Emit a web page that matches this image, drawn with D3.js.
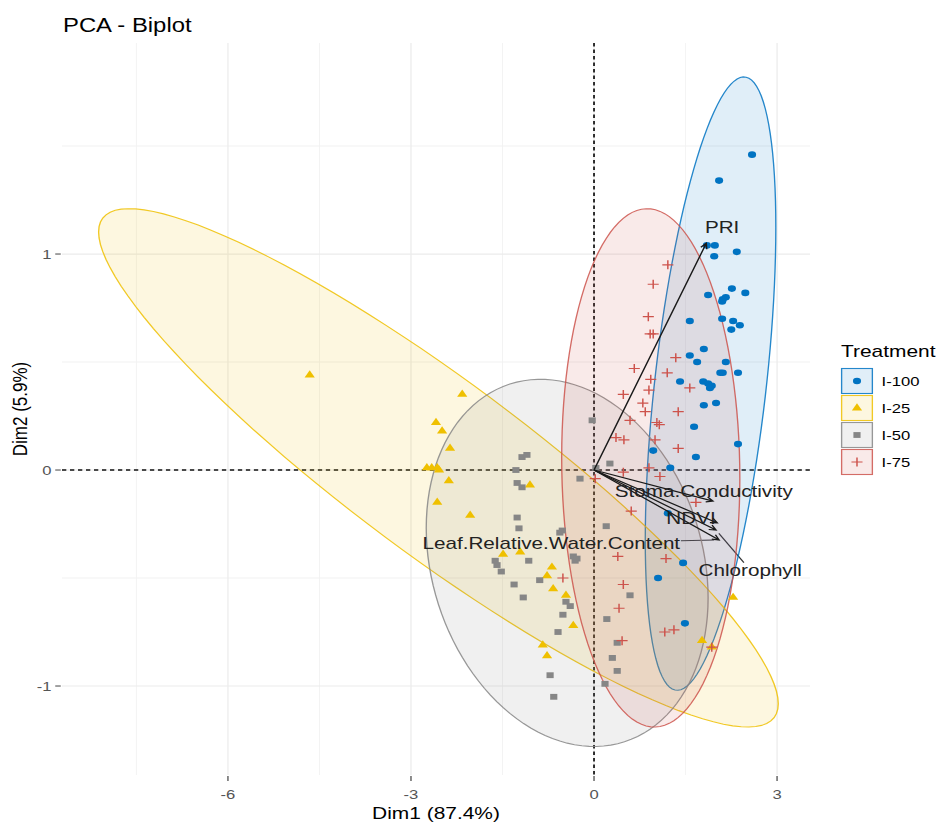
<!DOCTYPE html>
<html>
<head>
<meta charset="utf-8">
<script src="https://cdn.jsdelivr.net/npm/d3@7"></script>
<style>
  body { margin: 0; background: #fff; }
  text { font-family: "Liberation Sans", Arial, Helvetica, sans-serif; }
</style>
</head>
<body>
<div id="chart"></div>
<script>
// treatments
const groups = ["I-100", "I-25", "I-50", "I-75"];
const groupColors = ["#0073C2", "#EFC000", "#868686", "#CD534C"];
const groupShapes = ["circle", "triangle", "square", "plus"];

// individual scores (Dim1, Dim2) per treatment
const i100X = [2.59, 2.05, 1.85, 1.98, 1.97, 2.34, 2.26, 2.48, 1.87, 2.11, 2.16, 2.10, 1.57, 2.10, 2.28, 2.39, 2.25, 1.80, 1.57, 1.69,
  2.16, 2.07, 2.11, 2.36, 1.41, 1.79, 1.87, 1.93, 1.90, 1.80, 2.00, 1.64, 2.36, 0.97, 1.67, 1.25, 1.21, 1.46, 1.05, 1.49];
const i100Y = [1.46, 1.34, 1.04, 1.04, 0.99, 1.01, 0.84, 0.82, 0.81, 0.79, 0.80, 0.78, 0.69, 0.70, 0.69, 0.67, 0.65, 0.56, 0.53, 0.50,
  0.50, 0.45, 0.45, 0.45, 0.41, 0.41, 0.40, 0.39, 0.38, 0.30, 0.31, 0.20, 0.12, 0.09, 0.06, 0.01, -0.20, -0.43, -0.50, -0.71];

const i25X = [-4.66, -2.16, -2.59, -2.49, -2.36, -2.74, -2.66, -2.57, -2.54, -2.38, -1.05, -2.57, -2.03, -1.49, -1.21, -0.69, -0.77,
  -0.67, -0.46, -0.34, -0.84, -0.77, 2.28, 1.77, 1.93];
const i25Y = [0.44, 0.35, 0.22, 0.18, 0.10, 0.01, 0.01, 0.01, 0.00, -0.05, -0.07, -0.15, -0.21, -0.39, -0.38, -0.45, -0.49,
  -0.55, -0.58, -0.72, -0.81, -0.86, -0.59, -0.79, -0.82];

const i50X = [-1.18, -1.10, -1.28, -1.26, -1.18, -1.26, -1.23, -0.52, -0.03, -0.23, 0.26, -1.62, -1.59, -1.52, -1.07, -0.34, -0.28, -0.31,
  -1.31, -0.89, -1.16, -0.46, -0.39, -0.51, -0.59, 0.21, 0.20, -0.56, 0.59, 0.30, 0.38, 0.18, -0.72, -0.66, 0.38, 0.03];
const i50Y = [0.06, 0.07, 0.00, -0.06, -0.08, -0.22, -0.27, -0.28, 0.23, -0.04, 0.03, -0.42, -0.44, -0.47, -0.42, -0.40, -0.41, -0.42,
  -0.53, -0.51, -0.59, -0.61, -0.63, -0.67, -0.75, -0.69, -0.26, -0.29, -0.58, -0.87, -0.93, -0.99, -0.95, -1.05, -0.80, 0.01];

const i75X = [1.21, 0.97, 0.89, 0.92, 0.97, 1.34, 0.66, 1.20, 0.93, 1.57, 0.48, 0.90, 0.80, 0.84, 1.38, 0.59, 1.03, 1.07, 0.36, 0.49,
  1.00, 1.38, 0.90, 0.48, 1.08, 0.02, 0.61, 1.67, 0.39, 1.18, -0.51, 0.48, 0.41, 1.16, 1.31, 0.46, 1.93];
const i75Y = [0.95, 0.86, 0.71, 0.63, 0.63, 0.52, 0.47, 0.45, 0.42, 0.38, 0.35, 0.37, 0.31, 0.27, 0.27, 0.23, 0.22, 0.21, 0.15, 0.14,
  0.14, 0.10, 0.01, -0.01, -0.03, -0.04, -0.19, -0.15, -0.40, -0.41, -0.50, -0.53, -0.64, -0.75, -0.74, -0.79, -0.82];

// concentration ellipses per treatment: centre, spread on each axis, correlation
const ellipseCx = [1.91, -2.55, -0.44, 0.93];
const ellipseCy = [0.40, 0.01, -0.43, 0.01];
const ellipseSdx = [1.07, 5.57, 2.31, 1.46];
const ellipseSdy = [1.42, 1.20, 0.85, 1.20];
const ellipseR = [0.51, -0.91, -0.19, -0.04];

// variables (arrows)
const varNames = ["PRI", "Stoma.Conductivity", "NDVI", "Chlorophyll", "Leaf.Relative.Water.Content"];
const varX = [1.84, 1.95, 2.02, 2.00, 2.05];
const varY = [1.05, -0.144, -0.245, -0.278, -0.324];
const labelX = [2.10, 1.80, 1.59, 2.56, -0.70];
const labelY = [1.125, -0.097, -0.222, -0.463, -0.338];

const xTicks = [-6, -3, 0, 3];
const yTicks = [-1, 0, 1];
const xMinor = [-7.5, -4.5, -1.5, 1.5];
const yMinor = [-0.5, 0.5, 1.5];

const width = 938,
  height = 823,
  SX = 1.23; // picture is stretched horizontally

const svg = d3
  .select("#chart")
  .append("svg")
  .attr("width", width)
  .attr("height", height);

const root = svg.append("g").attr("transform", `scale(${SX},1)`);

const panel = { left: 62 / SX, right: 810 / SX, top: 43, bottom: 775 };

const x = d3.scaleLinear().domain([-8.72, 3.54]).range([panel.left, panel.right]);
const y = d3.scaleLinear().domain([-1.412, 1.977]).range([panel.bottom, panel.top]);

// grid
const grid = root.append("g");
grid.selectAll(".gx-minor").data(xMinor).enter().append("line")
  .attr("x1", d => x(d)).attr("x2", d => x(d))
  .attr("y1", panel.top).attr("y2", panel.bottom)
  .attr("stroke", "#f1f1f1").attr("stroke-width", 0.8);
grid.selectAll(".gy-minor").data(yMinor).enter().append("line")
  .attr("x1", panel.left).attr("x2", panel.right)
  .attr("y1", d => y(d)).attr("y2", d => y(d))
  .attr("stroke", "#f1f1f1").attr("stroke-width", 1);
grid.selectAll(".gx").data(xTicks).enter().append("line")
  .attr("x1", d => x(d)).attr("x2", d => x(d))
  .attr("y1", panel.top).attr("y2", panel.bottom)
  .attr("stroke", "#ebebeb").attr("stroke-width", 1);
grid.selectAll(".gy").data(yTicks).enter().append("line")
  .attr("x1", panel.left).attr("x2", panel.right)
  .attr("y1", d => y(d)).attr("y2", d => y(d))
  .attr("stroke", "#ebebeb").attr("stroke-width", 1.2);

// axes ticks + labels
const axisCol = "#555";
root.selectAll(".xt").data(xTicks).enter().append("line")
  .attr("x1", d => x(d)).attr("x2", d => x(d))
  .attr("y1", panel.bottom + 1).attr("y2", panel.bottom + 6)
  .attr("stroke", "#444").attr("stroke-width", 1);
root.selectAll(".xl").data(xTicks).enter().append("text")
  .attr("x", d => x(d)).attr("y", 799)
  .attr("text-anchor", "middle").attr("fill", axisCol)
  .style("font-size", "13.5px")
  .text(d => d);
root.selectAll(".yt").data(yTicks).enter().append("line")
  .attr("x1", panel.left - 5.5).attr("x2", panel.left - 1)
  .attr("y1", d => y(d)).attr("y2", d => y(d))
  .attr("stroke", "#444").attr("stroke-width", 1);
root.selectAll(".yl").data(yTicks).enter().append("text")
  .attr("x", panel.left - 8.5).attr("y", d => y(d) + 5)
  .attr("text-anchor", "end").attr("fill", axisCol)
  .style("font-size", "13.5px")
  .text(d => d);

root.append("text")
  .attr("x", (panel.left + panel.right) / 2).attr("y", 819)
  .attr("text-anchor", "middle")
  .style("font-size", "17px")
  .text("Dim1 (87.4%)");
root.append("text")
  .attr("transform", `translate(22, ${(panel.top + panel.bottom) / 2}) rotate(-90)`)
  .attr("text-anchor", "middle")
  .style("font-size", "17px")
  .text("Dim2 (5.9%)");

root.append("text")
  .attr("x", 63 / SX).attr("y", 32)
  .style("font-size", "19.4px")
  .text("PCA - Biplot");

// reference lines
root.append("line")
  .attr("x1", x(0)).attr("x2", x(0)).attr("y1", panel.top).attr("y2", panel.bottom)
  .attr("stroke", "#111").attr("stroke-width", 1.4).attr("stroke-dasharray", "3.5,3");
root.append("line")
  .attr("x1", panel.left).attr("x2", panel.right).attr("y1", y(0)).attr("y2", y(0))
  .attr("stroke", "#111").attr("stroke-width", 1.4).attr("stroke-dasharray", "3.5,3");

// ellipses
const ellipseLine = d3.line().x(d => x(d[0])).y(d => y(d[1])).curve(d3.curveLinearClosed);
function ellipsePoints(i) {
  const pts = [];
  const k = Math.sqrt(1 - ellipseR[i] * ellipseR[i]);
  for (let j = 0; j < 120; j++) {
    const t = (j / 120) * 2 * Math.PI;
    pts.push([
      ellipseCx[i] + ellipseSdx[i] * Math.cos(t),
      ellipseCy[i] + ellipseSdy[i] * (ellipseR[i] * Math.cos(t) + k * Math.sin(t))
    ]);
  }
  return pts;
}
root.selectAll(".ellipse").data(groups).enter().append("path")
  .attr("class", "ellipse")
  .attr("d", (d, i) => ellipseLine(ellipsePoints(i)))
  .attr("fill", (d, i) => groupColors[i])
  .attr("fill-opacity", 0.12)
  .attr("stroke", (d, i) => groupColors[i])
  .attr("stroke-opacity", 0.85)
  .attr("stroke-width", 1.1);

// point shapes
function drawShape(sel, shape, color) {
  if (shape === "circle") {
    sel.append("circle").attr("r", 3.3).attr("fill", color);
  } else if (shape === "triangle") {
    sel.append("path").attr("d", d3.symbol(d3.symbolTriangle).size(30)()).attr("fill", color);
  } else if (shape === "square") {
    sel.append("path").attr("d", d3.symbol(d3.symbolSquare).size(34)()).attr("fill", color);
  } else {
    sel.append("path").attr("d", "M-4.5,0H4.5M0,-4.5V4.5")
      .attr("stroke", color).attr("stroke-width", 1.2).attr("fill", "none");
  }
}

const seriesX = [i100X, i25X, i50X, i75X];
const seriesY = [i100Y, i25Y, i50Y, i75Y];
groups.forEach((g, gi) => {
  const pts = seriesX[gi].map((v, j) => [v, seriesY[gi][j]]);
  const sel = root.append("g").selectAll("g").data(pts).enter().append("g")
    .attr("transform", d => `translate(${x(d[0])},${y(d[1])})`);
  drawShape(sel, groupShapes[gi], groupColors[gi]);
});

// variable arrows
const arrows = root.append("g");
varNames.forEach((name, i) => {
  const x0 = x(0), y0 = y(0), x1 = x(varX[i]), y1 = y(varY[i]);
  const ang = Math.atan2(y1 - y0, x1 - x0);
  const h = 6, a = Math.PI / 7;
  arrows.append("path")
    .attr("d", `M${x0},${y0}L${x1},${y1}` +
      `M${x1 - h * Math.cos(ang - a)},${y1 - h * Math.sin(ang - a)}L${x1},${y1}` +
      `L${x1 - h * Math.cos(ang + a)},${y1 - h * Math.sin(ang + a)}`)
    .attr("stroke", "#1a1a1a").attr("stroke-width", 1.2).attr("fill", "none");
});

// variable labels, with a repel-style segment when the label sits away from its tip
varNames.forEach((name, i) => {
  const t = root.append("text")
    .attr("x", x(labelX[i])).attr("y", y(labelY[i]))
    .attr("text-anchor", "middle").attr("dominant-baseline", "central")
    .attr("fill", "#222")
    .style("font-size", "16.8px")
    .text(name);
  const b = t.node().getBBox();
  const cx = b.x + b.width / 2, cy = b.y + b.height / 2;
  const tx = x(varX[i]), ty = y(varY[i]);
  const dx = tx - cx, dy = ty - cy;
  // where the line centre -> tip leaves the label box
  const s = Math.min(
    dx !== 0 ? (b.width / 2) / Math.abs(dx) : Infinity,
    dy !== 0 ? (b.height / 2 - 2) / Math.abs(dy) : Infinity
  );
  if (s >= 1) return;
  const nx = cx + dx * s, ny = cy + dy * s;
  const dist = Math.hypot(tx - nx, ty - ny);
  if (dist > 14) {
    const f = (dist - 4) / dist;
    root.insert("line", "text")
      .attr("x1", nx).attr("y1", ny)
      .attr("x2", nx + (tx - nx) * f).attr("y2", ny + (ty - ny) * f)
      .attr("stroke", "#333").attr("stroke-width", 1);
  }
});

// legend
const legend = root.append("g").attr("transform", `translate(${841 / SX}, 0)`);
legend.append("text").attr("x", 0).attr("y", 357)
  .style("font-size", "17px").text("Treatment");
const keys = legend.selectAll(".key").data(groups).enter().append("g")
  .attr("transform", (d, i) => `translate(0, ${368 + i * 27})`);
keys.append("rect")
  .attr("x", 0.5).attr("y", 0.5).attr("width", 25).attr("height", 25)
  .attr("fill", (d, i) => groupColors[i]).attr("fill-opacity", 0.12)
  .attr("stroke", (d, i) => groupColors[i]).attr("stroke-opacity", 0.85)
  .attr("stroke-width", 1.1);
keys.each(function (d, i) {
  const s = d3.select(this).append("g").attr("transform", "translate(13,13)");
  drawShape(s, groupShapes[i], groupColors[i]);
});
keys.append("text")
  .attr("x", 33).attr("y", 13).attr("dominant-baseline", "central")
  .style("font-size", "13.5px")
  .text(d => d);
</script>
</body>
</html>
